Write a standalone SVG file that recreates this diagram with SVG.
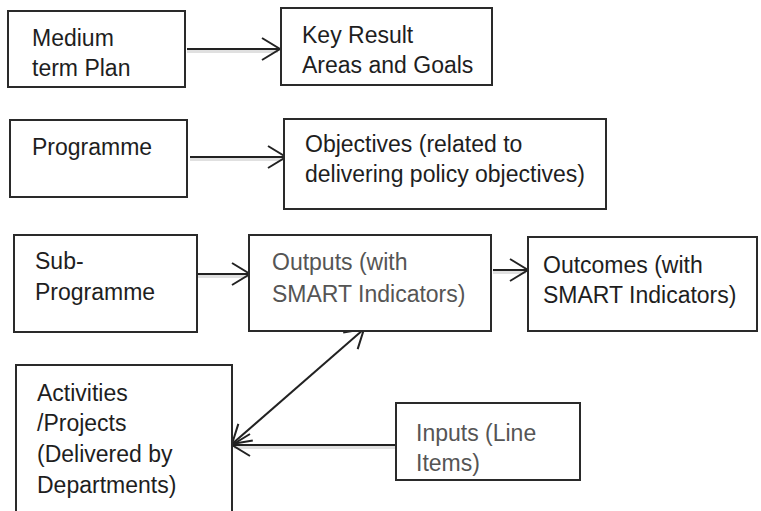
<svg xmlns="http://www.w3.org/2000/svg" width="761" height="511" viewBox="0 0 761 511">
<style>
.box{fill:#fff;stroke:#2a2a2a;stroke-width:2}
.t{font-family:"Liberation Sans",Arial,sans-serif;font-size:23px;fill:#1e1e1e}
.g{fill:#555}
.c{fill:none;stroke:#222;stroke-width:2}
.sh{fill:none;stroke:#000;stroke-opacity:0.12;stroke-width:4}
</style>
<defs>
<marker id="ah" markerUnits="userSpaceOnUse" markerWidth="24" markerHeight="26" viewBox="-20 -13 24 26" refX="0" refY="0" orient="auto-start-reverse">
<path d="M-18,-11 L0,0 L-18,11" fill="none" stroke="#222" stroke-width="2"/>
</marker>
</defs>
<rect width="761" height="511" fill="#fff"/>
<g id="connectors">
<line class="sh" x1="187" y1="51" x2="278" y2="51"/>
<line class="c" x1="187" y1="49" x2="280" y2="49" marker-end="url(#ah)"/>
<line class="sh" x1="190" y1="159" x2="284" y2="159"/>
<line class="c" x1="190" y1="157" x2="286" y2="157" marker-end="url(#ah)"/>
<line class="sh" x1="198" y1="276" x2="248" y2="276"/>
<line class="c" x1="198" y1="274" x2="250" y2="274" marker-end="url(#ah)"/>
<line class="sh" x1="493" y1="272" x2="526" y2="272"/>
<line class="c" x1="493" y1="270" x2="528" y2="270" marker-end="url(#ah)"/>
<line class="sh" x1="395" y1="447" x2="234" y2="447"/>
<line class="c" x1="395" y1="445" x2="232" y2="445" marker-end="url(#ah)"/>
<line class="c" x1="232" y1="444" x2="364" y2="329" marker-start="url(#ah)" marker-end="url(#ah)"/>
</g>
<g id="n1"><rect class="box" x="8" y="11" width="177" height="76"/>
<text class="t" x="32" y="46">Medium</text><text class="t" x="32" y="76">term Plan</text></g>
<g id="n2"><rect class="box" x="281" y="8" width="211" height="77"/>
<text class="t" x="302" y="43">Key Result</text><text class="t" x="302" y="73">Areas and Goals</text></g>
<g id="n3"><rect class="box" x="10" y="120" width="177" height="77"/>
<text class="t" x="32" y="155">Programme</text></g>
<g id="n4"><rect class="box" x="284" y="119" width="322" height="90"/>
<text class="t" x="305" y="152">Objectives (related to</text><text class="t" x="305" y="182">delivering policy objectives)</text></g>
<g id="n5"><rect class="box" x="14" y="235" width="183" height="97"/>
<text class="t" x="35" y="269">Sub-</text><text class="t" x="35" y="300">Programme</text></g>
<g id="n6"><rect class="box" x="249" y="235" width="242" height="96"/>
<text class="t g" x="272" y="270">Outputs (with</text><text class="t g" x="272" y="302">SMART Indicators)</text></g>
<g id="n7"><rect class="box" x="528" y="237" width="229" height="94"/>
<text class="t" x="543" y="273">Outcomes (with</text><text class="t" x="543" y="303">SMART Indicators)</text></g>
<g id="n8"><rect class="box" x="16" y="365" width="216" height="160"/>
<text class="t" x="37" y="401">Activities</text><text class="t" x="37" y="431">/Projects</text><text class="t" x="37" y="462">(Delivered by</text><text class="t" x="37" y="493">Departments)</text></g>
<g id="n9"><rect class="box" x="396" y="403" width="184" height="77"/>
<text class="t g" x="416" y="441">Inputs (Line</text><text class="t g" x="416" y="471">Items)</text></g>
</svg>
